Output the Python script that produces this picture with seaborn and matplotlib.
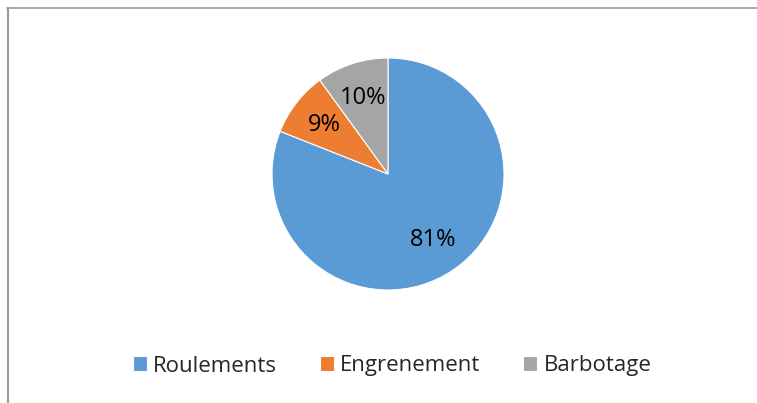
import matplotlib
matplotlib.use("Agg")
import matplotlib.pyplot as plt
import seaborn as sns
from matplotlib.lines import Line2D

# data
labels = ["Roulements", "Engrenement", "Barbotage"]
shares = [81, 9, 10]
colors = ["#5B9BD5", "#ED7D31", "#A5A5A5"]

sns.set_theme(style="white")
plt.rcParams["font.family"] = ["Open Sans", "DejaVu Sans"]

W, H = 757, 403
fig = plt.figure(figsize=(W / 100, H / 100), dpi=100)

# pie axes: centre (388, 174), radius 116 px
cx, cy, r = 388, 174, 116
ax = fig.add_axes([(cx - r) / W, 1 - (cy + r) / H, 2 * r / W, 2 * r / H])

pal = sns.color_palette(colors)
wedges, texts, autotexts = ax.pie(
    shares, colors=pal, startangle=90, counterclock=False,
    autopct="%1.0f%%", pctdistance=0.69,
    wedgeprops=dict(edgecolor="white", linewidth=0.8),
    textprops=dict(fontsize=17, color="black"))
ax.set_xlim(-1, 1)
ax.set_ylim(-1, 1)
ax.set_aspect("auto")
ax.axis("off")

fig.legend(wedges, labels, loc="center", bbox_to_anchor=(392 / W, 1 - 366 / H),
           ncol=3, frameon=False, fontsize=16, handlelength=0.63,
           handleheight=0.63, handletextpad=0.3, columnspacing=1.9)

# chart border (top and left visible)
fig.add_artist(Line2D([7 / W, 1], [1 - 8 / H, 1 - 8 / H], color="#999999", lw=1.2))
fig.add_artist(Line2D([8 / W, 8 / W], [0, 1 - 8 / H], color="#999999", lw=1.5))

fig.savefig("out.png", dpi=100)
